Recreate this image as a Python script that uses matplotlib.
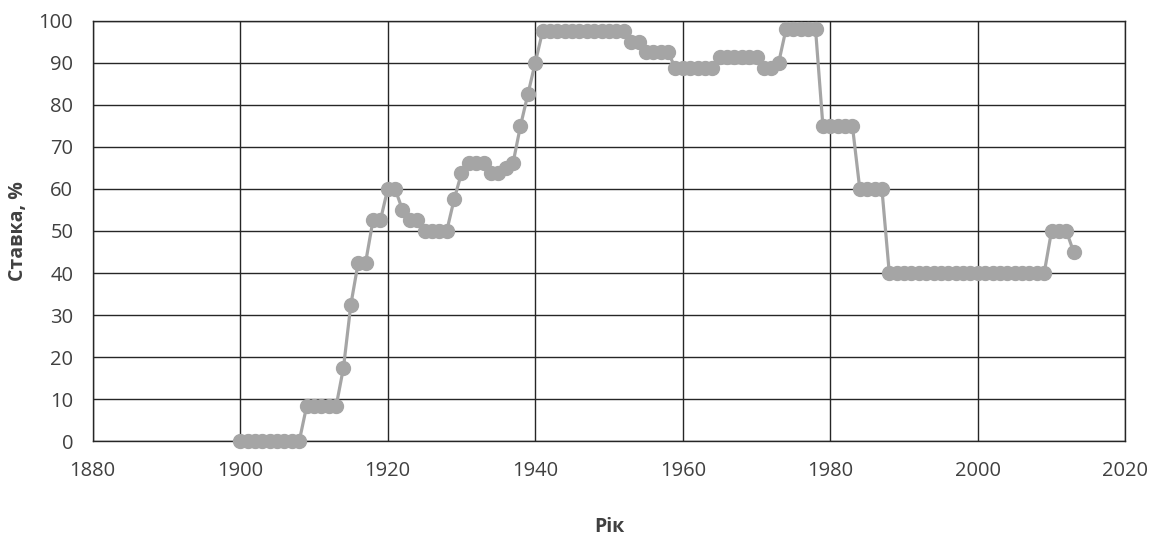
import matplotlib
matplotlib.use('Agg')
import matplotlib.pyplot as plt
import numpy as np

# роки 1900..2013
years = list(range(1900, 2014))

# ставка по роках
rates = ([0] * 9                       # 1900-1908
         + [8.3] * 5                   # 1909-1913
         + [17.5, 32.5, 42.5, 42.5, 52.5, 52.5]   # 1914-1919
         + [60, 60, 55, 52.5, 52.5]    # 1920-1924
         + [50] * 4                    # 1925-1928
         + [57.5, 63.75]               # 1929-1930
         + [66.25] * 3                 # 1931-1933
         + [63.75, 63.75, 65, 66.25, 75, 82.5, 90]   # 1934-1940
         + [97.5] * 12                 # 1941-1952
         + [95, 95]                    # 1953-1954
         + [92.5] * 4                  # 1955-1958
         + [88.75] * 6                 # 1959-1964
         + [91.25] * 6                 # 1965-1970
         + [88.75, 88.75, 90]          # 1971-1973
         + [98] * 5                    # 1974-1978
         + [75] * 5                    # 1979-1983
         + [60] * 4                    # 1984-1987
         + [40] * 22                   # 1988-2009
         + [50, 50, 50, 45])           # 2010-2013

x_ticks = [1880, 1900, 1920, 1940, 1960, 1980, 2000, 2020]
y_ticks = list(range(0, 101, 10))

plt.rcParams['font.family'] = ['Open Sans', 'DejaVu Sans']
text_color = '#404040'

fig = plt.figure(figsize=(11.66, 5.41), dpi=100)
ax = fig.add_axes([0.0795, 0.1843, 0.8856, 0.7775])

ax.plot(years, rates, color='#A5A5A5', linewidth=2.3, marker='o',
        markersize=10, markeredgecolor='#A5A5A5', markerfacecolor='#A5A5A5',
        zorder=3, clip_on=False)

ax.set_xlim(1880, 2020)
ax.set_ylim(0, 100)
ax.set_xticks(x_ticks)
ax.set_yticks(y_ticks)
ax.grid(True, color='#262626', linewidth=1.0)
ax.set_axisbelow(True)
for s in ax.spines.values():
    s.set_color('#262626')
    s.set_linewidth(1.0)

ax.tick_params(axis='both', length=0, labelsize=14.5, labelcolor=text_color)
ax.tick_params(axis='x', pad=14)
ax.tick_params(axis='y', pad=14)

ax.set_xlabel('Рік', fontsize=14, fontweight='bold', color=text_color, labelpad=26)
ax.set_ylabel('Ставка, %', fontsize=14, fontweight='bold', color=text_color, labelpad=8)

plt.savefig('out.png', dpi=100)
